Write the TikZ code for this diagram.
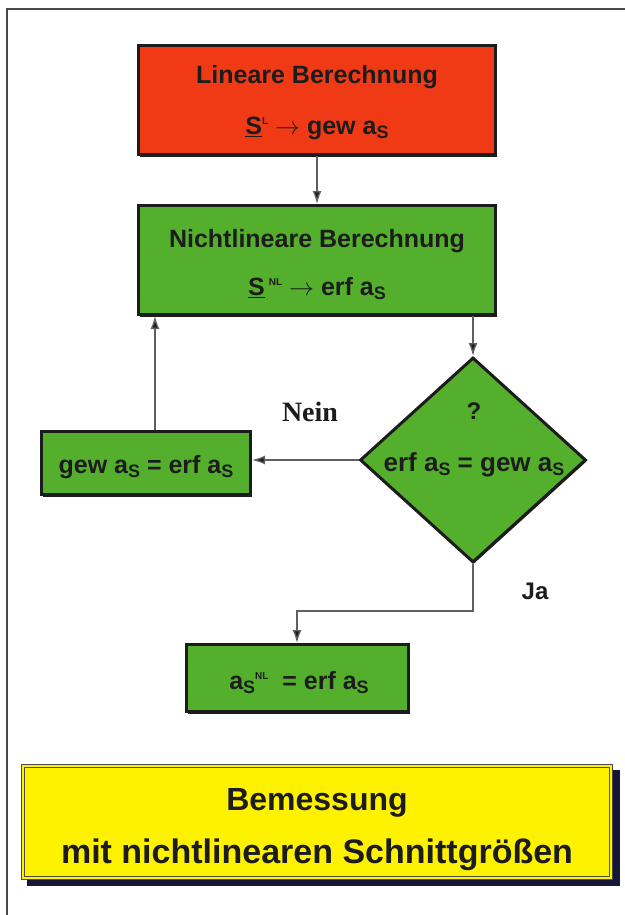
\documentclass[tikz,border=0pt]{standalone}
\usepackage{fontspec}
\setmainfont{Liberation Sans}
\newfontfamily\neinfont{Liberation Serif}
\usetikzlibrary{arrows.meta,shapes.geometric,shadows}
\definecolor{redbox}{RGB}{240,58,22}
\definecolor{greenbox}{RGB}{84,176,44}
\definecolor{yellowbox}{RGB}{255,242,0}
\definecolor{edge}{RGB}{28,28,28}
\definecolor{conn}{RGB}{95,95,95}
\definecolor{navy}{RGB}{22,22,58}
\newcommand\subS{\raisebox{-4pt}{\fontsize{18}{18}\selectfont S}}
\newcommand\supx[1]{\raisebox{10pt}{\fontsize{10}{10}\selectfont #1}}
\begin{document}
\begin{tikzpicture}[x=1pt,y=-1pt,
  flowbox/.style={draw=edge,line width=3pt,inner sep=0pt,
    drop shadow={shadow xshift=1.5pt,shadow yshift=-2pt,fill=edge,opacity=1}},
  txt/.style={inner sep=0pt,align=center,text=edge,
    font=\bfseries\fontsize{25}{53}\selectfont},
  arr/.style={draw=conn,line width=1.4pt,-{Latex[length=13pt,width=9pt,fill=edge]}},
  lbl/.style={inner sep=0pt,font=\bfseries\fontsize{24}{24}\selectfont,text=edge}]
\useasboundingbox (0,0) rectangle (624,915);
% outer frame
\draw[line width=1.5pt,edge!80] (7,930) -- (7,9) -- (640,9);
% boxes
\node[flowbox,fill=redbox,minimum width=357pt,minimum height=109pt] (lin) at (317,100) {};
\node[txt,font=\bfseries\fontsize{25}{51}\selectfont] (lintext) at (317,102.5)
  {Lineare Berechnung\\\underline{S}\supx{L} $\rightarrow$ gew a\subS};
\node[flowbox,fill=greenbox,minimum width=357pt,minimum height=109pt] (nl) at (317,260) {};
\node[txt,font=\bfseries\fontsize{25}{48}\selectfont] (nltext) at (317,264.5)
  {Nichtlineare Berechnung\\\underline{S}\,\supx{NL} $\rightarrow$ erf a\subS};
\node[draw=edge,line width=3pt,fill=greenbox,diamond,inner sep=0pt,minimum width=226pt,minimum height=205pt,
  drop shadow={shadow xshift=1pt,shadow yshift=-1.5pt,fill=edge,opacity=1}] (dia) at (473,460) {};
\node[lbl] (q) at (474,411) {?};
\node[txt,font=\bfseries\fontsize{26}{26}\selectfont] (dtext) at (474,465) {erf a\subS{} = gew a\subS};
\node[flowbox,fill=greenbox,minimum width=209pt,minimum height=63pt] (gew) at (146,463) {};
\node[txt] (gewtext) at (146,467) {gew a\subS{} = erf a\subS};
\node[flowbox,fill=greenbox,minimum width=222pt,minimum height=67pt] (res) at (297,678) {};
\node[txt] (restext) at (299,683) {a\subS\supx{NL}\ \ = erf a\subS};
% yellow box
\fill[navy] (27,770) rectangle (620,886);
\node[draw=gray!60!black,line width=1.2pt,double=yellowbox,double distance=2.5pt,fill=yellowbox,
  minimum width=588pt,minimum height=112pt,inner sep=0pt] (bem) at (317,822) {};
\node[txt,text=edge] (bemtext) at (317,830)
  {\fontsize{32}{48}\selectfont Bemessung\\\fontsize{34}{48}\selectfont mit nichtlinearen Schnittgrößen};
% labels
\node[inner sep=0pt,font=\neinfont\bfseries\fontsize{28}{28}\selectfont,text=edge] (nein) at (310,412) {Nein};
\node[lbl] (ja) at (535,591) {Ja};
% connectors
\draw[arr] (lin.south) -- (nl.north);
\draw[arr] (nl.south -| dia.north) -- (dia.north);
\draw[arr] (dia.west) -- (dia.west -| gew.east);
\draw[arr] ([xshift=9pt]gew.north) -- ([xshift=9pt]gew.north |- nl.south);
\draw[arr] (dia.south) -- ++(0,47) -| (res.north);
\end{tikzpicture}
\end{document}
